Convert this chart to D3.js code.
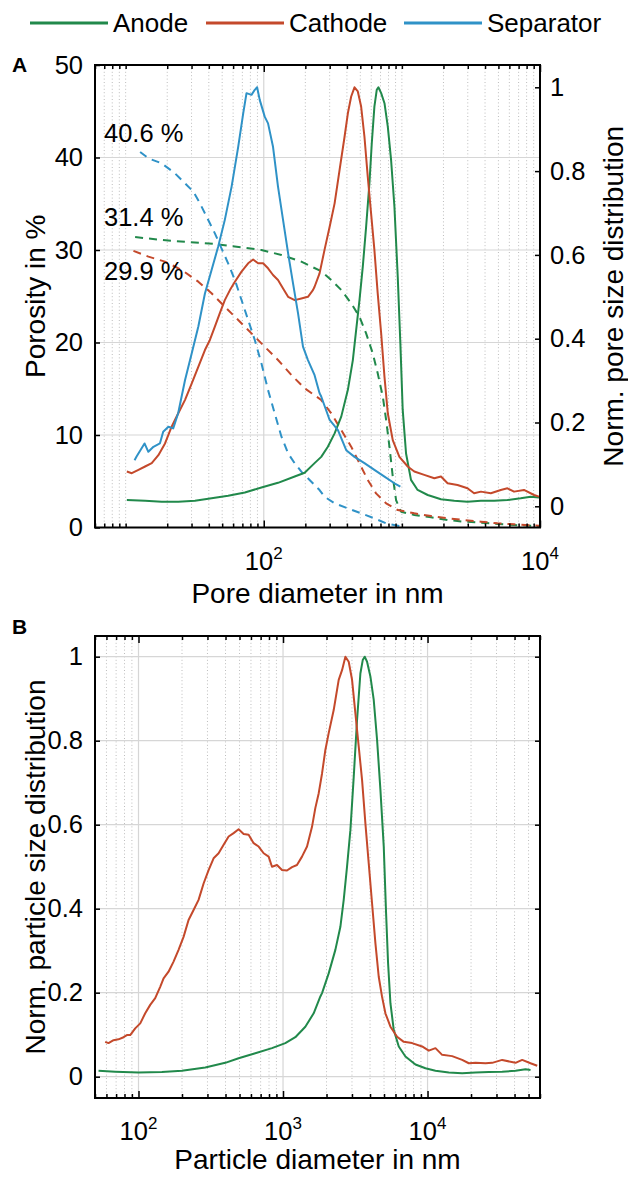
<!DOCTYPE html>
<html><head><meta charset="utf-8">
<script src="https://cdn.jsdelivr.net/npm/d3@7"></script>
<style>
body{margin:0;background:#fff}
svg{display:block}
</style>
</head><body>
<script>
// ---------------- DATA ----------------
const seriesNames = ["Anode", "Cathode", "Separator"];
const seriesColors = ["#21894b", "#c4492b", "#2f92c7"];

// Panel A: normalized pore size distribution [diameter nm, value]
const anodePoreDist = [[10.2,0.015],[13.83,0.013],[18.24,0.011],[24.04,0.011],[31.77,0.013],[41.88,0.019],[55.21,0.025],[72.95,0.033],[96.16,0.045],[126.8,0.056],[167.5,0.071],[197.7,0.080],[233.3,0.103],[260.6,0.118],[291.1,0.142],[325.8,0.174],[363.9,0.214],[406.4,0.278],[441.6,0.349],[466.7,0.421],[493.2,0.492],[521.2,0.572],[550.8,0.667],[582.1,0.771],[605.3,0.866],[632.4,0.954],[657.7,0.994],[676.1,1.0],[707.9,0.986],[748.2,0.962],[790.7,0.906],[835.6,0.826],[883.1,0.715],[933.3,0.548],[975.0,0.389],[1014,0.230],[1072,0.126],[1164,0.063],[1300,0.039],[1538,0.027],[1919,0.017],[2393,0.013],[2985,0.011],[3733,0.013],[4656,0.013],[5808,0.015],[7244,0.019],[8570,0.023],[9840,0.021]];
const cathodePoreDist = [[10.2,0.083],[11.08,0.079],[12.38,0.087],[13.83,0.095],[15.45,0.103],[17.26,0.122],[19.28,0.150],[21.53,0.190],[24.04,0.222],[26.92,0.254],[30.06,0.293],[33.57,0.333],[37.5,0.373],[40.74,0.397],[44.26,0.429],[48.08,0.461],[52.24,0.492],[56.89,0.516],[61.8,0.536],[69.02,0.560],[77.09,0.580],[83.75,0.589],[90.99,0.580],[98.86,0.580],[107.4,0.568],[116.7,0.552],[126.8,0.540],[138.0,0.520],[150.0,0.500],[167.5,0.492],[187.1,0.496],[208.9,0.500],[227.0,0.516],[233.3,0.524],[253.5,0.556],[275.4,0.612],[299.9,0.667],[325.8,0.723],[354.0,0.803],[384.6,0.882],[406.4,0.938],[429.5,0.978],[453.9,1.0],[479.7,0.990],[507.0,0.954],[535.8,0.882],[566.2,0.787],[598.4,0.699],[632.4,0.612],[668.3,0.508],[707.9,0.413],[748.2,0.309],[790.7,0.222],[859.0,0.158],[959.4,0.118],[1102,0.095],[1230,0.083],[1452,0.075],[1718,0.067],[1919,0.071],[2143,0.055],[2529,0.051],[2985,0.043],[3334,0.031],[3733,0.035],[4406,0.031],[5200,0.039],[5808,0.043],[6486,0.035],[7656,0.039],[9057,0.027],[9840,0.023]];
const separatorPoreDist = [[11.6,0.110],[12.0,0.119],[13.7,0.150],[14.6,0.130],[15.9,0.142],[17.7,0.150],[18.7,0.178],[20.4,0.190],[22.1,0.186],[24.0,0.222],[26.9,0.301],[30.1,0.365],[33.6,0.429],[37.5,0.508],[41.9,0.564],[46.8,0.620],[52.2,0.683],[58.5,0.763],[65.3,0.858],[71.0,0.938],[75.0,0.986],[81.5,0.982],[86.1,0.994],[89.5,1.000],[93.5,0.970],[101.6,0.930],[107.4,0.914],[116.7,0.858],[126.8,0.763],[138.0,0.683],[150.0,0.604],[162.9,0.532],[177.0,0.461],[192.3,0.381],[208.9,0.349],[233.3,0.313],[253.5,0.270],[260.6,0.262],[299.9,0.206],[344.4,0.182],[395.4,0.134],[453.9,0.118],[535.8,0.103],[632.4,0.087],[748.2,0.071],[883.1,0.055],[975.0,0.047]];

// Panel A: cumulative porosity in % [diameter nm, value]
const anodePorosity = [[11.71,31.4],[18.24,31.08],[28.44,30.86],[44.26,30.65],[69.02,30.29],[96.16,30.0],[134.3,29.46],[187.1,28.74],[260.6,27.7],[308.3,26.76],[363.9,25.68],[429.5,24.23],[493.2,22.79],[550.8,20.99],[615.2,18.83],[668.3,16.67],[727.8,14.14],[769.1,11.62],[812.8,8.74],[859.0,5.50],[907.8,2.97],[986.3,1.71],[1230,1.35],[1626,1.10],[2143,0.81],[2825,0.63],[3733,0.52],[4920,0.38],[6486,0.27],[9840,0.16]];
const cathodePorosity = [[11.39,29.9],[14.62,29.28],[19.28,28.74],[25.47,27.84],[33.57,26.58],[41.88,25.32],[52.24,23.87],[65.31,22.43],[81.47,20.99],[101.6,19.55],[126.8,18.11],[158.5,16.49],[197.7,15.05],[233.3,14.3],[260.6,13.78],[308.3,12.34],[363.9,10.54],[429.5,8.74],[493.2,6.94],[566.2,5.14],[650.1,3.69],[769.1,2.61],[933.3,1.89],[1230,1.53],[1626,1.24],[2143,0.99],[2825,0.81],[3733,0.63],[4920,0.45],[6486,0.34],[9840,0.20]];
const separatorPorosity = [[12.73,40.6],[14.62,39.91],[18.24,39.37],[22.75,38.29],[26.92,37.21],[30.90,36.31],[34.51,35.05],[39.63,33.24],[44.26,31.80],[49.43,30.18],[55.21,28.56],[61.80,26.76],[69.02,24.59],[77.09,22.43],[86.10,20.27],[96.16,17.75],[107.4,14.86],[120.0,12.34],[134.3,9.82],[150.0,8.02],[167.5,6.94],[187.1,6.04],[214.8,5.14],[253.5,4.05],[275.4,3.33],[325.8,2.61],[406.4,2.07],[507.0,1.53],[632.4,0.99],[769.1,0.45],[959.4,0.16]];
const porosityLabels = ["40.6 %", "31.4 %", "29.9 %"];

// Panel B: normalized particle size distribution [diameter nm, value]
const anodeParticle = [[52.9,0.014],[69.0,0.012],[100,0.010],[145.1,0.011],[199.7,0.014],[289.6,0.022],[398.5,0.033],[492.8,0.044],[643.0,0.056],[838.7,0.068],[1037,0.080],[1217,0.094],[1427,0.119],[1630,0.151],[1813,0.191],[1862,0.199],[2070,0.246],[2302,0.302],[2494,0.357],[2630,0.421],[2773,0.500],[2925,0.587],[3085,0.714],[3252,0.849],[3430,0.960],[3561,0.992],[3675,1.0],[3815,0.988],[4023,0.953],[4243,0.897],[4475,0.802],[4720,0.683],[4977,0.548],[5166,0.389],[5333,0.270],[5536,0.175],[5839,0.111],[6323,0.072],[7031,0.048],[8247,0.029],[9672,0.020],[11343,0.014],[14028,0.010],[17357,0.008],[21468,0.010],[26546,0.011],[32846,0.012],[40617,0.014],[47643,0.018],[51594,0.016]];
const cathodeParticle = [[58.8,0.083],[62.0,0.080],[67.2,0.087],[72.7,0.089],[78.8,0.094],[83.1,0.099],[87.6,0.099],[94.9,0.115],[102.8,0.127],[111.3,0.151],[120.5,0.171],[130.5,0.187],[141.3,0.214],[149.1,0.234],[161.4,0.250],[174.8,0.274],[189.3,0.302],[205.0,0.333],[222.0,0.373],[240.5,0.397],[260.4,0.421],[282.1,0.460],[305.5,0.492],[330.8,0.520],[358.3,0.532],[388.1,0.552],[420.3,0.572],[455.1,0.580],[492.8,0.589],[533.9,0.578],[578.1,0.576],[626.1,0.556],[678.1,0.548],[734.5,0.532],[795.3,0.524],[838.7,0.500],[908.2,0.504],[983.8,0.492],[1065,0.491],[1154,0.499],[1249,0.504],[1353,0.524],[1466,0.548],[1587,0.595],[1674,0.640],[1766,0.675],[1862,0.722],[1963,0.778],[2070,0.818],[2242,0.873],[2428,0.945],[2561,0.968],[2701,1.0],[2848,0.988],[3004,0.945],[3168,0.865],[3341,0.786],[3524,0.706],[3715,0.603],[3918,0.508],[4131,0.413],[4357,0.318],[4595,0.238],[4846,0.190],[5110,0.151],[5536,0.119],[6157,0.095],[6846,0.083],[7818,0.080],[9172,0.072],[10198,0.062],[11343,0.068],[12616,0.052],[14799,0.049],[17357,0.040],[19302,0.032],[21468,0.033],[25177,0.032],[27999,0.033],[32846,0.040],[40617,0.033],[45170,0.040],[51594,0.032],[57406,0.026]];

// Axis ticks and labels
const poreXMajor = [1e2, 1e4];
const poreXLabels = ["2", "4"];
const particleXMajor = [1e2, 1e3, 1e4];
const particleXLabels = ["2", "3", "4"];
const porosityTicks = [0, 10, 20, 30, 40, 50];
const normTicks = [0, 0.2, 0.4, 0.6, 0.8, 1];
const poreXDomain = [6, 1e4];
const particleXDomain = [50, 6e4];

// ---------------- DRAW ----------------
const FONT = '"Liberation Sans", Arial, Helvetica, sans-serif';
const TICK_FS = 25.5, TITLE_FS = 28, LEG_FS = 26;
const svg = d3.select("body").append("svg")
  .attr("width", 628).attr("height", 1177)
  .style("font-family", FONT);

const A = {left: 95, right: 540, top: 65, bottom: 527.5};
const B = {left: 95, right: 540, top: 636, bottom: 1098};

const xA = d3.scaleLog().domain(poreXDomain).range([A.left, A.right]);
const yAL = d3.scaleLinear().domain([0, 50]).range([A.bottom, A.top]);
const yAR = d3.scaleLinear().domain([0, 1]).range([506.3, 87.3]);
const xB = d3.scaleLog().domain(particleXDomain).range([B.left, B.right]);
const yB = d3.scaleLinear().domain([0, 1]).range([1076.7, 656.7]);

function minorList(dom, majors) {
  const out = [];
  for (let e = Math.floor(Math.log10(dom[0])); e <= Math.ceil(Math.log10(dom[1])); e++) {
    for (let m = 1; m <= 9; m++) {
      const v = m * Math.pow(10, e);
      if (v >= dom[0] * 0.9999 && v <= dom[1] * 1.0001 && !majors.some(M => Math.abs(M - v) / v < 1e-6)) out.push(v);
    }
  }
  return out;
}

const defs = svg.append("defs");
function clip(id, P) {
  defs.append("clipPath").attr("id", id).append("rect")
    .attr("x", P.left).attr("y", P.top).attr("width", P.right - P.left).attr("height", P.bottom - P.top);
}
clip("clipA", A); clip("clipB", B);

function grid(P, x, majors, minors, y, yTicks) {
  const g = svg.append("g");
  g.selectAll(".vmin").data(minors).join("line")
    .attr("x1", d => x(d)).attr("x2", d => x(d)).attr("y1", P.top).attr("y2", P.bottom)
    .attr("stroke", "#bdbdbd").attr("stroke-width", 1).attr("stroke-dasharray", "1,2.4");
  g.selectAll(".vmaj").data(majors).join("line")
    .attr("x1", d => x(d)).attr("x2", d => x(d)).attr("y1", P.top).attr("y2", P.bottom)
    .attr("stroke", "#d6d6d6").attr("stroke-width", 1.2);
  g.selectAll(".h").data(yTicks).join("line")
    .attr("x1", P.left).attr("x2", P.right).attr("y1", d => y(d)).attr("y2", d => y(d))
    .attr("stroke", "#d6d6d6").attr("stroke-width", 1.2);
}

function drawLine(clipId, x, y, data, color, dashed) {
  svg.append("path").datum(data)
    .attr("clip-path", `url(#${clipId})`)
    .attr("fill", "none").attr("stroke", color).attr("stroke-width", 2)
    .attr("stroke-linejoin", "round")
    .attr("stroke-dasharray", dashed ? "8,6" : null)
    .attr("d", d3.line().x(d => x(d[0])).y(d => y(d[1])));
}

function styleAxis(g) {
  g.select(".domain").remove();
  g.selectAll(".tick line").attr("stroke", "#000").attr("stroke-width", 1.5);
  g.selectAll(".tick text").attr("font-size", TICK_FS).attr("fill", "#000").attr("font-family", FONT);
}

function frameAndTicks(P, x, majors, minors) {
  [[d3.axisBottom, P.bottom], [d3.axisTop, P.top]].forEach(([ax, yy]) => {
    svg.append("g").attr("transform", `translate(0,${yy})`)
      .call(ax(x).tickValues(minors).tickSizeInner(-4).tickSizeOuter(0).tickFormat(""))
      .call(styleAxis);
    svg.append("g").attr("transform", `translate(0,${yy})`)
      .call(ax(x).tickValues(majors).tickSizeInner(-7).tickSizeOuter(0).tickFormat(""))
      .call(styleAxis);
  });
}

function frame(P) {
  svg.append("rect").attr("x", P.left).attr("y", P.top)
    .attr("width", P.right - P.left).attr("height", P.bottom - P.top)
    .attr("fill", "none").attr("stroke", "#000").attr("stroke-width", 2);
}

function xLabels(x, majors, exps, yBase) {
  majors.forEach((v, i) => {
    const t = svg.append("text").attr("x", x(v)).attr("y", yBase)
      .attr("text-anchor", "middle").attr("font-size", TICK_FS).attr("fill", "#000");
    t.append("tspan").text("10");
    t.append("tspan").attr("font-size", 17).attr("dy", "-11").text(exps[i]);
  });
}

const fmt = d => String(+d.toFixed(1));

// ----- Panel A -----
const minA = minorList(poreXDomain, poreXMajor);
grid(A, xA, poreXMajor, minA, yAL, porosityTicks);

drawLine("clipA", xA, yAL, anodePorosity, seriesColors[0], true);
drawLine("clipA", xA, yAL, cathodePorosity, seriesColors[1], true);
drawLine("clipA", xA, yAL, separatorPorosity, seriesColors[2], true);
drawLine("clipA", xA, yAR, anodePoreDist, seriesColors[0], false);
drawLine("clipA", xA, yAR, cathodePoreDist, seriesColors[1], false);
drawLine("clipA", xA, yAR, separatorPoreDist, seriesColors[2], false);

frameAndTicks(A, xA, poreXMajor, minA);
svg.append("g").attr("transform", `translate(${A.left},0)`)
  .call(d3.axisLeft(yAL).tickValues(porosityTicks).tickSizeInner(-5).tickSizeOuter(0).tickPadding(12))
  .call(styleAxis);
svg.append("g").attr("transform", `translate(${A.right},0)`)
  .call(d3.axisRight(yAR).tickValues(normTicks).tickSizeInner(-5).tickSizeOuter(0).tickPadding(10).tickFormat(fmt))
  .call(styleAxis);
frame(A);
xLabels(xA, poreXMajor, poreXLabels, 570);

// annotations
const annY = [142, 226, 280];
porosityLabels.forEach((s, i) => {
  svg.append("text").attr("x", 104).attr("y", annY[i]).attr("font-size", TICK_FS).attr("fill", "#000").text(s);
});

svg.append("text").attr("x", (A.left + A.right) / 2).attr("y", 603)
  .attr("text-anchor", "middle").attr("font-size", TITLE_FS).text("Pore diameter in nm");
svg.append("text").attr("transform", `translate(45,${(A.top + A.bottom) / 2}) rotate(-90)`)
  .attr("text-anchor", "middle").attr("font-size", TITLE_FS).text("Porosity in %");
svg.append("text").attr("transform", `translate(623,${(A.top + A.bottom) / 2}) rotate(-90)`)
  .attr("text-anchor", "middle").attr("font-size", TITLE_FS).text("Norm. pore size distribution");
svg.append("text").attr("x", 12).attr("y", 72).attr("font-size", 21).attr("font-weight", "bold").text("A");

// ----- Panel B -----
const minB = minorList(particleXDomain, particleXMajor);
grid(B, xB, particleXMajor, minB, yB, normTicks);
drawLine("clipB", xB, yB, anodeParticle, seriesColors[0], false);
drawLine("clipB", xB, yB, cathodeParticle, seriesColors[1], false);
frameAndTicks(B, xB, particleXMajor, minB);
svg.append("g").attr("transform", `translate(${B.left},0)`)
  .call(d3.axisLeft(yB).tickValues(normTicks).tickSizeInner(-5).tickSizeOuter(0).tickPadding(12).tickFormat(fmt))
  .call(styleAxis);
svg.append("g").attr("transform", `translate(${B.right},0)`)
  .call(d3.axisRight(yB).tickValues(normTicks).tickSizeInner(-5).tickSizeOuter(0).tickFormat(""))
  .call(styleAxis);
frame(B);
xLabels(xB, particleXMajor, particleXLabels, 1140);
svg.append("text").attr("x", (B.left + B.right) / 2).attr("y", 1169)
  .attr("text-anchor", "middle").attr("font-size", TITLE_FS).text("Particle diameter in nm");
svg.append("text").attr("transform", `translate(45,${(B.top + B.bottom) / 2}) rotate(-90)`)
  .attr("text-anchor", "middle").attr("font-size", TITLE_FS).text("Norm. particle size distribution");
svg.append("text").attr("x", 12).attr("y", 634).attr("font-size", 21).attr("font-weight", "bold").text("B");

// ----- Legend -----
const legX = [30, 206, 404];
const leg = svg.append("g");
seriesNames.forEach((n, i) => {
  leg.append("line").attr("x1", legX[i]).attr("x2", legX[i] + 78).attr("y1", 23).attr("y2", 23)
    .attr("stroke", seriesColors[i]).attr("stroke-width", 3);
  leg.append("text").attr("x", legX[i] + 83).attr("y", 32).attr("font-size", LEG_FS).attr("fill", "#000").text(n);
});
</script>
</body></html>
